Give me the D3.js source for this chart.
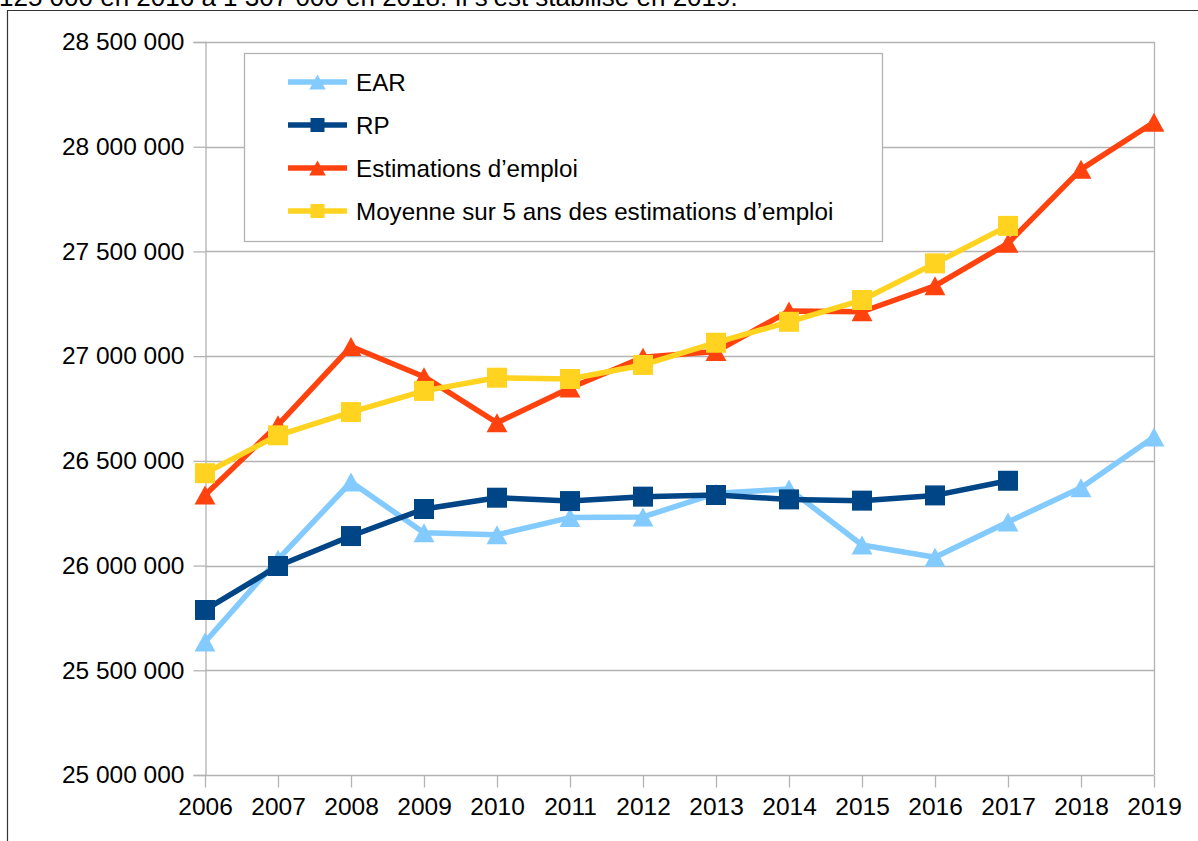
<!DOCTYPE html>
<html><head><meta charset="utf-8">
<script src="https://cdn.jsdelivr.net/npm/d3@7"></script>
<style>
html,body{margin:0;padding:0;background:#fff;overflow:hidden}
text{font-family:"Liberation Sans",Arial,sans-serif}
</style></head>
<body><svg id="c" width="1198" height="841"></svg>
<script>
const years = [2006,2007,2008,2009,2010,2011,2012,2013,2014,2015,2016,2017,2018,2019];
const ear = [25635000,26030000,26399000,26157000,26147000,26229000,26232000,26345000,26366000,26098000,26040000,26208000,26372000,26614000];
const rp = [25788000,25998000,26141000,26270000,26324000,26308000,26329000,26337000,26316000,26310000,26335000,26405000,null,null];
const estim = [26337000,26672000,27046000,26902000,26682000,26848000,26995000,27022000,27215000,27212000,27336000,27539000,27892000,28117000];
const moy = [26441000,26622000,26733000,26834000,26897000,26891000,26958000,27064000,27164000,27268000,27443000,27622000,null,null];
const yTicks = [25000000,25500000,26000000,26500000,27000000,27500000,28000000,28500000];
const seriesNames = ["EAR","RP","Estimations d\u2019emploi","Moyenne sur 5 ans des estimations d\u2019emploi"];
const topText = "125 000 en 2016 \u00e0 1 307 000 en 2018. Il s\u2019est stabilis\u00e9 en 2019.";

const series = [
  {name:seriesNames[0], values:ear, color:"#83caff", marker:"tri"},
  {name:seriesNames[1], values:rp, color:"#004586", marker:"sq"},
  {name:seriesNames[2], values:estim, color:"#ff420e", marker:"tri"},
  {name:seriesNames[3], values:moy, color:"#ffd320", marker:"sq"}
];

const svg = d3.select("#c");
const L=205, R=1154, T=42, B=775;
const x = d3.scalePoint().domain(years).range([L,R]);
const y = d3.scaleLinear().domain([25000000,28500000]).range([B,T]);
const fmt = v => d3.format(",")(v).replace(/,/g,"\u00a0");

// top cut text (continuation of a paragraph, cut by the top edge as in the reference)
svg.append("text").attr("x",-1).attr("y",6).attr("font-size",26).attr("fill","#000").text(topText);
// outer frame
svg.append("path").attr("d","M7.5,845 V10.5 H1205").attr("fill","none").attr("stroke","#333").attr("stroke-width",1.2);

// gridlines
svg.append("g").selectAll("line").data(yTicks).join("line")
  .attr("x1",L).attr("x2",R).attr("y1",d=>Math.round(y(d))+0.5).attr("y2",d=>Math.round(y(d))+0.5)
  .attr("stroke","#b3b3b3").attr("stroke-width",1.3);
svg.append("line").attr("x1",R+0.5).attr("x2",R+0.5).attr("y1",T).attr("y2",B).attr("stroke","#b3b3b3").attr("stroke-width",1.3);

// y axis
const ya = d3.axisLeft(y).tickValues(yTicks).tickFormat(fmt).tickSize(12).tickPadding(9);
const gy = svg.append("g").attr("transform",`translate(${L+0.5},0)`).call(ya);
gy.select(".domain").attr("stroke","#b3b3b3").attr("stroke-width",1.3);
gy.selectAll(".tick line").attr("stroke","#b3b3b3").attr("stroke-width",1.3);
gy.selectAll(".tick text").attr("font-size",24.5).attr("fill","#000").attr("font-family","Liberation Sans, Arial, sans-serif");

// x axis
const xa = d3.axisBottom(x).tickSize(12).tickPadding(10);
const gx = svg.append("g").attr("transform",`translate(0,${Math.round(y(25000000))+0.5})`).call(xa);
gx.select(".domain").remove();
gx.selectAll(".tick line").attr("stroke","#b3b3b3").attr("stroke-width",1.3);
gx.selectAll(".tick text").attr("font-size",24.5).attr("fill","#000").attr("font-family","Liberation Sans, Arial, sans-serif");

function triPath(s){const w=s*1.1,h=s;return `M0,${-h/2}L${w/2},${h/2}L${-w/2},${h/2}Z`;}
function sqPath(s){return `M${-s/2},${-s/2}h${s}v${s}h${-s}Z`;}

const line = d3.line().defined(d=>d.v!=null).x(d=>x(d.yr)).y(d=>y(d.v));
series.forEach(s=>{
  const pts = years.map((yr,i)=>({yr, v:s.values[i]}));
  const g = svg.append("g");
  g.append("path").attr("d",line(pts)).attr("fill","none").attr("stroke",s.color).attr("stroke-width",5.5).attr("stroke-linejoin","round");
  g.selectAll("path.m").data(pts.filter(d=>d.v!=null)).join("path").attr("class","m")
    .attr("transform",d=>`translate(${x(d.yr)},${y(d.v)})`)
    .attr("d",s.marker==="tri"?triPath(19):sqPath(20)).attr("fill",s.color);
});

// legend
const lg = svg.append("g");
lg.append("rect").attr("x",244.5).attr("y",53.5).attr("width",638).attr("height",188).attr("fill","#fff").attr("stroke","#b3b3b3").attr("stroke-width",1.3);
const rowsY=[82,125,168,211];
series.forEach((s,i)=>{
  const yy=rowsY[i];
  lg.append("line").attr("x1",288).attr("x2",347).attr("y1",yy).attr("y2",yy).attr("stroke",s.color).attr("stroke-width",5.5);
  lg.append("path").attr("transform",`translate(317.5,${yy})`).attr("d",s.marker==="tri"?triPath(15):sqPath(14)).attr("fill",s.color);
  lg.append("text").attr("x",356).attr("y",yy).attr("dy","0.36em").attr("font-size",24.2).attr("fill","#000").text(s.name);
});
</script></body></html>
